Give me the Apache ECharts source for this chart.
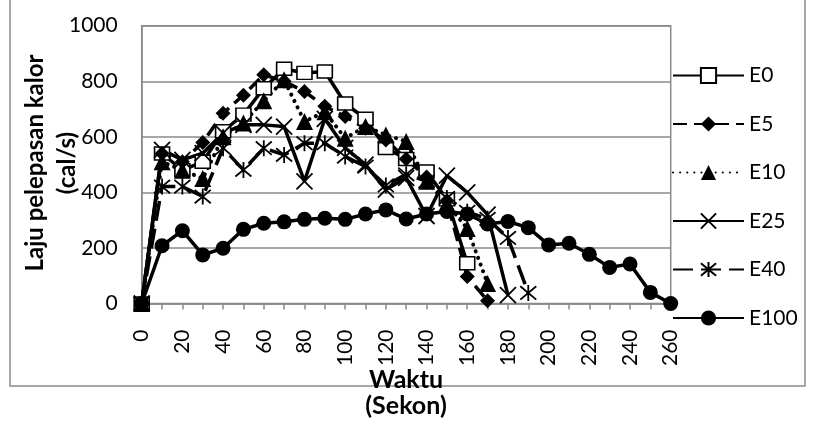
<!DOCTYPE html>
<html>
<head>
<meta charset="utf-8">
<script src="https://cdn.jsdelivr.net/npm/echarts@6/dist/echarts.min.js"></script>
<style>
html,body{margin:0;padding:0;background:#fff;}
#chart{width:815px;height:426px;}
</style>
</head>
<body>
<div id="chart"></div>
<script>
// Categories (Waktu, seconds)
var categories = ['0','10','20','30','40','50','60','70','80','90','100','110','120','130','140','150','160','170','180','190','200','210','220','230','240','250','260'];
// Series values (cal/s)
var E0   = [0,540,480,510,620,680,775,845,830,835,720,665,560,520,475,375,145];
var E5   = [0,540,510,580,685,750,823,800,763,710,673,631,589,520,455,370,97,10];
var E10  = [0,510,480,450,600,650,730,805,655,690,595,637,607,583,440,360,270,72];
var E25  = [0,553,517,541,613,643,643,637,440,665,560,500,410,452,315,460,400,320,30];
var E40  = [0,421,421,385,559,481,559,535,577,577,529,493,425,465,440,380,330,305,236,38];
var E100 = [0,208,262,175,199,267,289,294,303,307,303,322,337,304,322,331,322,286,295,273,211,217,177,130,142,40,0];
var yTicks = [0,200,400,600,800,1000];
var seriesNames = ['E0','E5','E10','E25','E40','E100'];

var FONT = 'Lato';
var chart = echarts.init(document.getElementById('chart'));
var black = '#000';
function line(name, data, opts) {
  return Object.assign({
    name: name, type: 'line', data: data, showSymbol: true, showAllSymbol: true,
    symbolSize: 14, animation: false,
    lineStyle: {color: black, width: 3.5, type: 'solid'},
    itemStyle: {color: black}
  }, opts);
}
var XPATH = 'path://M0,0L10,10M10,0L0,10';
var STARPATH = 'path://M0,0L10,10M10,0L0,10M5,-1L5,11';
var option = {
  animation: false,
  backgroundColor: '#fff',
  grid: {left: 141.7, right: 144.3, top: 25.7, bottom: 122.5, show: true, borderColor: '#8a8a8a', borderWidth: 1.5},
  xAxis: {
    type: 'category', data: categories, boundaryGap: false,
    axisLine: {lineStyle: {color: '#8a8a8a', width: 1.5}},
    axisTick: {show: true, interval: 0, length: 6, lineStyle: {color: '#8a8a8a', width: 1.5}},
    axisLabel: {interval: 1, rotate: 90, margin: 26, color: black, fontFamily: FONT, fontSize: 21},
    splitLine: {show: false}
  },
  yAxis: {
    type: 'value', min: yTicks[0], max: yTicks[yTicks.length-1], interval: 200,
    axisLine: {show: true, lineStyle: {color: '#8a8a8a', width: 1.5}},
    axisTick: {show: false},
    axisLabel: {margin: 24, color: black, fontFamily: FONT, fontSize: 21, formatter: function (v) { return String(v); }},
    splitLine: {lineStyle: {color: '#8a8a8a', width: 1.5}}
  },
  legend: {
    orient: 'vertical', left: 672, top: 65, padding: 0, itemWidth: 71, itemHeight: 19, itemGap: 27.5,
    data: seriesNames,
    textStyle: {color: black, fontFamily: FONT, fontSize: 21, padding: [0,0,0,0]}
  },
  series: [
    line(seriesNames[0], E0, {symbol: 'rect', symbolSize: [15,13], itemStyle: {color: '#fff', borderColor: black, borderWidth: 1.5}}),
    line(seriesNames[1], E5, {symbol: 'diamond', symbolSize: 15, lineStyle: {color: black, width: 3.5, type: [14, 7]}}),
    line(seriesNames[2], E10, {symbol: 'triangle', symbolSize: 17, lineStyle: {color: black, width: 4, type: [0.1, 7], cap: 'round'}}),
    line(seriesNames[3], E25, {symbol: XPATH, symbolSize: 16, itemStyle: {color: 'none', borderColor: black, borderWidth: 1.8}}),
    line(seriesNames[4], E40, {symbol: STARPATH, symbolSize: 16, lineStyle: {color: black, width: 3.5, type: [20, 8]}, itemStyle: {color: 'none', borderColor: black, borderWidth: 1.8}}),
    line(seriesNames[5], E100, {symbol: 'circle', symbolSize: 15})
  ],
  graphic: [
    {type: 'rect', z: -10, shape: {x: 10, y: -10, width: 795, height: 396}, style: {fill: 'none', stroke: '#8a8a8a', lineWidth: 1.5}},
    {type: 'text', z: 10, x: 51, y: 163, rotation: Math.PI/2,
     style: {text: 'Laju pelepasan kalor\n(cal/s)', fill: black, font: 'bold 24px Lato', textAlign: 'center', textVerticalAlign: 'middle', lineHeight: 32}},
    {type: 'text', z: 10, x: 406, y: 393,
     style: {text: 'Waktu\n(Sekon)', fill: black, font: 'bold 25px Lato', textAlign: 'center', textVerticalAlign: 'middle', lineHeight: 26}}
  ]
};
chart.setOption(option);
</script>
</body>
</html>
